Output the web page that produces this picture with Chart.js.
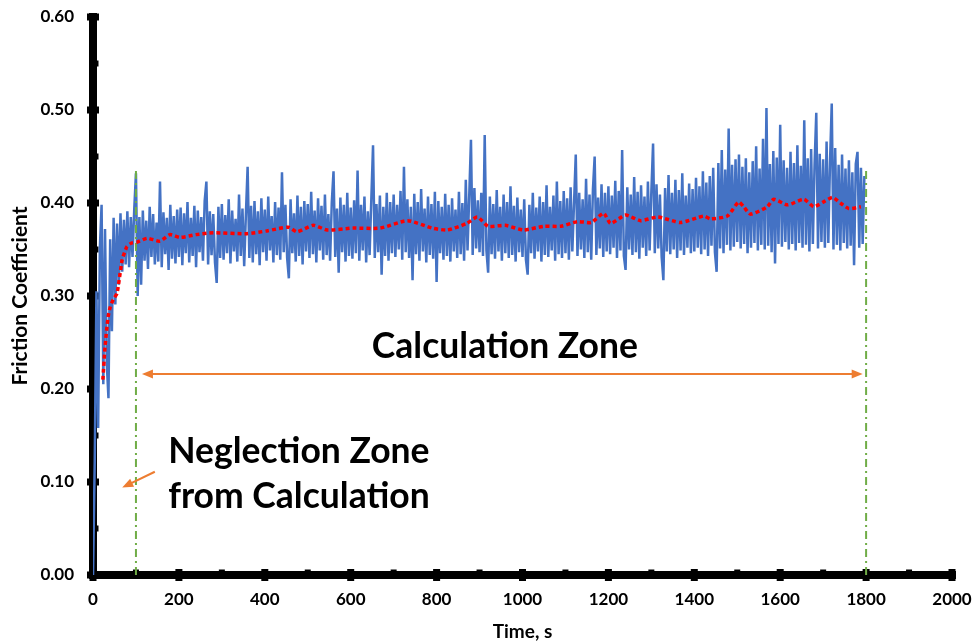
<!DOCTYPE html>
<html>
<head>
<meta charset="utf-8">
<script src="https://cdn.jsdelivr.net/npm/chart.js@4.4.1/dist/chart.umd.min.js"></script>
<style>
  html, body { margin: 0; padding: 0; background: #ffffff; }
  canvas { display: block; }
</style>
</head>
<body>
<canvas id="chart" width="974" height="643"></canvas>
<script>
// Friction coefficient vs time, raw signal + moving average, with zone markers.
(function() {
  "use strict";

  // ===== Data =====
  var SAMPLE_STEP_S = 4;

  // raw friction coefficient, one row per 100 s
  var frictionRaw = [
    0.000, 0.121, 0.305, 0.158, 0.352, 0.398, 0.205, 0.372, 0.228, 0.190, 0.361, 0.262, 0.384, 0.291, 0.378, 0.312, 0.389, 0.326, 0.382, 0.334, 0.391, 0.331, 0.385, 0.342, 0.393,
    0.432, 0.300, 0.385, 0.312, 0.392, 0.338, 0.381, 0.329, 0.396, 0.342, 0.388, 0.334, 0.379, 0.337, 0.423, 0.331, 0.390, 0.345, 0.384, 0.328, 0.398, 0.340, 0.386, 0.335, 0.393,
    0.342, 0.395, 0.333, 0.389, 0.346, 0.401, 0.336, 0.384, 0.343, 0.397, 0.331, 0.392, 0.347, 0.385, 0.338, 0.402, 0.423, 0.334, 0.391, 0.344, 0.388, 0.336, 0.314, 0.396, 0.341,
    0.399, 0.339, 0.387, 0.346, 0.404, 0.335, 0.392, 0.348, 0.383, 0.337, 0.409, 0.343, 0.394, 0.332, 0.388, 0.439, 0.341, 0.397, 0.336, 0.402, 0.345, 0.391, 0.333, 0.405, 0.347,
    0.393, 0.338, 0.407, 0.349, 0.386, 0.336, 0.401, 0.344, 0.395, 0.339, 0.433, 0.347, 0.398, 0.341, 0.319, 0.404, 0.346, 0.389, 0.337, 0.408, 0.343, 0.396, 0.334, 0.402, 0.348,
    0.399, 0.341, 0.412, 0.345, 0.392, 0.336, 0.405, 0.349, 0.397, 0.339, 0.409, 0.344, 0.388, 0.338, 0.401, 0.434, 0.342, 0.394, 0.325, 0.406, 0.347, 0.398, 0.337, 0.411, 0.343,
    0.395, 0.340, 0.403, 0.346, 0.435, 0.338, 0.398, 0.349, 0.407, 0.336, 0.391, 0.344, 0.404, 0.462, 0.341, 0.399, 0.347, 0.408, 0.323, 0.396, 0.343, 0.411, 0.338, 0.401, 0.346,
    0.409, 0.342, 0.398, 0.350, 0.413, 0.339, 0.439, 0.347, 0.404, 0.341, 0.396, 0.317, 0.410, 0.345, 0.401, 0.338, 0.415, 0.348, 0.394, 0.336, 0.407, 0.344, 0.399, 0.340, 0.412,
    0.315, 0.402, 0.346, 0.396, 0.339, 0.410, 0.343, 0.398, 0.337, 0.405, 0.348, 0.393, 0.341, 0.412, 0.345, 0.400, 0.338, 0.425, 0.349, 0.408, 0.468, 0.344, 0.416, 0.351, 0.403,
    0.347, 0.411, 0.343, 0.473, 0.349, 0.325, 0.407, 0.345, 0.399, 0.340, 0.414, 0.348, 0.396, 0.338, 0.409, 0.346, 0.401, 0.341, 0.418, 0.344, 0.397, 0.337, 0.406, 0.347, 0.393,
    0.342, 0.404, 0.339, 0.323, 0.398, 0.346, 0.411, 0.340, 0.395, 0.348, 0.407, 0.337, 0.401, 0.344, 0.419, 0.342, 0.396, 0.349, 0.408, 0.338, 0.423, 0.345, 0.402, 0.341, 0.413,
    0.346, 0.405, 0.339, 0.417, 0.348, 0.400, 0.452, 0.343, 0.411, 0.350, 0.404, 0.341, 0.426, 0.347, 0.409, 0.339, 0.415, 0.450, 0.344, 0.406, 0.351, 0.420, 0.342, 0.411, 0.348,
    0.418, 0.345, 0.408, 0.352, 0.424, 0.341, 0.413, 0.349, 0.457, 0.343, 0.328, 0.417, 0.350, 0.409, 0.344, 0.428, 0.347, 0.412, 0.340, 0.419, 0.352, 0.407, 0.343, 0.423, 0.349,
    0.412, 0.464, 0.346, 0.420, 0.351, 0.409, 0.342, 0.317, 0.416, 0.348, 0.430, 0.345, 0.411, 0.350, 0.425, 0.341, 0.414, 0.349, 0.432, 0.344, 0.408, 0.352, 0.421, 0.346, 0.415,
    0.348, 0.427, 0.352, 0.418, 0.345, 0.434, 0.350, 0.422, 0.343, 0.429, 0.354, 0.438, 0.347, 0.326, 0.443, 0.351, 0.457, 0.346, 0.436, 0.355, 0.480, 0.349, 0.441, 0.353, 0.447,
    0.358, 0.452, 0.351, 0.439, 0.356, 0.448, 0.346, 0.433, 0.352, 0.445, 0.357, 0.461, 0.349, 0.437, 0.355, 0.469, 0.350, 0.502, 0.354, 0.442, 0.347, 0.456, 0.335, 0.449, 0.356,
    0.484, 0.353, 0.446, 0.358, 0.438, 0.350, 0.455, 0.356, 0.443, 0.349, 0.462, 0.357, 0.440, 0.352, 0.489, 0.355, 0.448, 0.348, 0.458, 0.356, 0.441, 0.497, 0.351, 0.453, 0.358,
    0.447, 0.352, 0.466, 0.357, 0.444, 0.507, 0.350, 0.459, 0.355, 0.441, 0.349, 0.452, 0.357, 0.437, 0.351, 0.446, 0.354, 0.433, 0.333, 0.442, 0.455, 0.352, 0.438, 0.356, 0.429
  ];

  // moving average (red dotted curve)
  var avgTime = [
    23, 28, 35, 40, 47, 56, 68, 79, 90, 103, 126, 156, 179, 203, 240, 280, 358, 405, 455, 475,
    513, 545, 606, 669, 732, 790, 825, 870, 895, 920, 960, 1002, 1050, 1090, 1128, 1160, 1189, 1205,
    1240, 1275, 1315, 1368, 1422, 1438, 1477, 1503, 1515, 1531, 1570, 1585, 1617, 1655, 1678, 1700,
    1722, 1740, 1760, 1788
  ];
  var avgValue = [
    0.210, 0.245, 0.277, 0.288, 0.296, 0.303, 0.339, 0.353, 0.357, 0.358, 0.362, 0.359, 0.366, 0.363, 0.366, 0.368, 0.367, 0.370, 0.374, 0.369,
    0.376, 0.371, 0.373, 0.373, 0.381, 0.373, 0.371, 0.378, 0.385, 0.375, 0.376, 0.371, 0.375, 0.375, 0.380, 0.379, 0.389, 0.378,
    0.387, 0.381, 0.385, 0.379, 0.386, 0.383, 0.386, 0.401, 0.396, 0.388, 0.396, 0.404, 0.398, 0.404, 0.396, 0.401,
    0.406, 0.400, 0.394, 0.396
  ];

  // zone markers
  var ZONE_START = 100;
  var ZONE_END = 1800;
  var ZONE_LINE_TOP = 0.435;

  // ===== Axis ranges =====
  var X_MIN = 0, X_MAX = 2000, X_STEP = 200;
  var Y_MIN = 0, Y_MAX = 0.6, Y_STEP = 0.1;

  // ===== Annotation layout (data coordinates) =====
  var CALC_ARROW = { x1: 114, x2: 1792, y: 0.216 };
  var CALC_LABEL = { x: 959, y: 0.233, text: "Calculation Zone" };
  var NEG_ARROW = { x1: 144, y1: 0.111, x2: 68, y2: 0.094 };
  var NEG_LABEL = { x: 175, y1: 0.120, y2: 0.072, line1: "Neglection Zone", line2: "from Calculation" };

  var ORANGE = "#ED7D31";
  var GREEN = "#70AD47";
  var BLUE = "#4472C4";
  var FONT = "Lato, 'Open Sans', sans-serif";

  // ===== Build points =====
  var rawPoints = frictionRaw.map(function(v, i) { return { x: i * SAMPLE_STEP_S, y: v }; });
  var avgPoints = avgTime.map(function(t, i) { return { x: t, y: avgValue[i] }; });

  // ===== Drawing helpers =====
  function arrowHead(ctx, fromX, fromY, toX, toY) {
    var ang = Math.atan2(toY - fromY, toX - fromX);
    var len = 11, half = 4.5;
    ctx.beginPath();
    ctx.moveTo(toX, toY);
    ctx.lineTo(toX - len * Math.cos(ang) + half * Math.sin(ang), toY - len * Math.sin(ang) - half * Math.cos(ang));
    ctx.lineTo(toX - len * Math.cos(ang) - half * Math.sin(ang), toY - len * Math.sin(ang) + half * Math.cos(ang));
    ctx.closePath();
    ctx.fill();
  }

  // heavy black axes with square tick marks (drawn under the data)
  var heavyAxes = {
    id: "heavyAxes",
    beforeDatasetsDraw: function(chart) {
      var ctx = chart.ctx, xs = chart.scales.x, ys = chart.scales.y;
      var x0 = xs.getPixelForValue(X_MIN), x1 = xs.getPixelForValue(X_MAX);
      var y0 = ys.getPixelForValue(Y_MIN), y1 = ys.getPixelForValue(Y_MAX);
      ctx.save();
      ctx.fillStyle = "#000";
      ctx.fillRect(x0 - 4, y0 - 4, x1 - x0 + 8, 8);
      ctx.fillRect(x0 - 4, y1 - 4, 8, y0 - y1 + 8);

      xs.ticks.forEach(function(t, i) {
        var px = xs.getPixelForValue(t.value);
        ctx.fillRect(px - 3.5, y0 - 6, 7, 12);
        if (i < xs.ticks.length - 1) {
          var mid = xs.getPixelForValue((t.value + xs.ticks[i + 1].value) / 2);
          ctx.fillRect(mid - 3, y0 - 5.5, 6, 3);
        }
      });
      ys.ticks.forEach(function(t, i) {
        var py = ys.getPixelForValue(t.value);
        ctx.fillRect(x0 - 6, py - 3.5, 12, 7);
        if (i < ys.ticks.length - 1) {
          var mid = ys.getPixelForValue((t.value + ys.ticks[i + 1].value) / 2);
          ctx.fillRect(x0 + 2.5, mid - 3, 3, 6);
        }
      });
      ctx.restore();
    }
  };

  // arrows and zone labels
  var zoneNotes = {
    id: "zoneNotes",
    afterDraw: function(chart) {
      var ctx = chart.ctx, xs = chart.scales.x, ys = chart.scales.y;
      ctx.save();
      ctx.strokeStyle = ORANGE;
      ctx.fillStyle = ORANGE;
      ctx.lineWidth = 2;

      var ax1 = xs.getPixelForValue(CALC_ARROW.x1), ax2 = xs.getPixelForValue(CALC_ARROW.x2);
      var ay = ys.getPixelForValue(CALC_ARROW.y);
      ctx.beginPath();
      ctx.moveTo(ax1 + 6, ay);
      ctx.lineTo(ax2 - 6, ay);
      ctx.stroke();
      arrowHead(ctx, ax2, ay, ax1, ay);
      arrowHead(ctx, ax1, ay, ax2, ay);

      var nx1 = xs.getPixelForValue(NEG_ARROW.x1), ny1 = ys.getPixelForValue(NEG_ARROW.y1);
      var nx2 = xs.getPixelForValue(NEG_ARROW.x2), ny2 = ys.getPixelForValue(NEG_ARROW.y2);
      ctx.beginPath();
      ctx.moveTo(nx1, ny1);
      ctx.lineTo(nx2 + (nx1 - nx2) * 0.2, ny2 + (ny1 - ny2) * 0.2);
      ctx.stroke();
      arrowHead(ctx, nx1, ny1, nx2, ny2);

      ctx.fillStyle = "#000";
      ctx.font = "bold 35.5px " + FONT;
      ctx.textBaseline = "alphabetic";
      ctx.textAlign = "center";
      ctx.fillText(CALC_LABEL.text, xs.getPixelForValue(CALC_LABEL.x), ys.getPixelForValue(CALC_LABEL.y));
      ctx.textAlign = "left";
      var lx = xs.getPixelForValue(NEG_LABEL.x);
      ctx.fillText(NEG_LABEL.line1, lx, ys.getPixelForValue(NEG_LABEL.y1));
      ctx.fillText(NEG_LABEL.line2, lx, ys.getPixelForValue(NEG_LABEL.y2));
      ctx.restore();
    }
  };

  var tickFont = { family: FONT, size: 17, weight: "bold" };

  new Chart(document.getElementById("chart"), {
    type: "line",
    data: {
      datasets: [
        {
          label: "Moving average",
          data: avgPoints,
          borderColor: "#FF0000",
          borderWidth: 3.5,
          borderDash: [4, 3],
          pointRadius: 0,
          tension: 0.2,
          fill: false
        },
        {
          label: "Zone start",
          data: [{ x: ZONE_START, y: 0 }, { x: ZONE_START, y: ZONE_LINE_TOP }],
          borderColor: GREEN,
          borderWidth: 2,
          borderDash: [8, 4, 2, 4],
          pointRadius: 0,
          fill: false
        },
        {
          label: "Zone end",
          data: [{ x: ZONE_END, y: 0 }, { x: ZONE_END, y: ZONE_LINE_TOP }],
          borderColor: GREEN,
          borderWidth: 2,
          borderDash: [8, 4, 2, 4],
          pointRadius: 0,
          fill: false
        },
        {
          label: "Friction coefficient",
          data: rawPoints,
          borderColor: BLUE,
          borderWidth: 2.5,
          pointRadius: 0,
          tension: 0,
          fill: false
        }
      ]
    },
    options: {
      responsive: false,
      animation: false,
      devicePixelRatio: 1,
      layout: { padding: { left: 0, right: 22, top: 17, bottom: 0 } },
      plugins: {
        legend: { display: false },
        tooltip: { enabled: false }
      },
      scales: {
        x: {
          type: "linear",
          min: X_MIN,
          max: X_MAX,
          afterFit: function(s) {
            s.height = 68;
            s.paddingLeft = 0;
            s.paddingRight = 0;
          },
          ticks: {
            stepSize: X_STEP,
            color: "#000",
            font: tickFont,
            padding: 14,
            maxRotation: 0,
            callback: function(v) { return String(Math.round(v)); }
          },
          grid: { display: false, drawTicks: false },
          border: { display: false },
          title: {
            display: true,
            text: "Time, s",
            color: "#000",
            font: { family: FONT, size: 19, weight: "bold" },
            padding: { top: 0, bottom: 0 }
          }
        },
        y: {
          min: Y_MIN,
          max: Y_MAX,
          afterFit: function(s) {
            s.width = 93;
            s.paddingTop = 0;
            s.paddingBottom = 0;
          },
          ticks: {
            stepSize: Y_STEP,
            color: "#000",
            font: tickFont,
            padding: 19,
            callback: function(v) { return Number(v).toFixed(2); }
          },
          grid: { display: false, drawTicks: false },
          border: { display: false },
          title: {
            display: true,
            text: "Friction Coefficient",
            color: "#000",
            font: { family: FONT, size: 21, weight: "bold" },
            padding: { top: 8, bottom: 0 }
          }
        }
      }
    },
    plugins: [heavyAxes, zoneNotes]
  });
})();
</script>
</body>
</html>
